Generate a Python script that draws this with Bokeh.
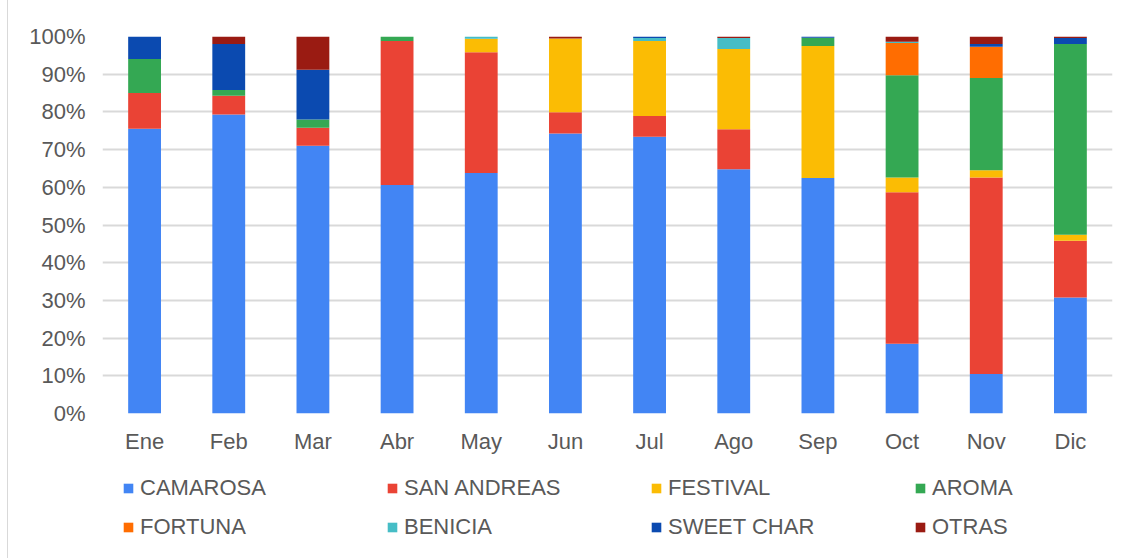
from bokeh.plotting import figure
from bokeh.layouts import column
from bokeh.models import ColumnDataSource, Range1d, NumeralTickFormatter, Legend, LegendItem, FixedTicker
from bokeh.embed import file_html
from bokeh.resources import INLINE

months = ["Ene", "Feb", "Mar", "Abr", "May", "Jun", "Jul", "Ago", "Sep", "Oct", "Nov", "Dic"]
series = ["CAMAROSA", "SAN ANDREAS", "FESTIVAL", "AROMA", "FORTUNA", "BENICIA", "SWEET CHAR", "OTRAS"]
colors = ["#4285F4", "#EA4335", "#FBBC04", "#34A853", "#FF6D01", "#46BDC6", "#0B4AB0", "#9A1B12"]

camarosa    = [75.5, 79.3, 71.0, 60.6, 63.8, 74.3, 73.4, 64.8, 62.5, 18.5, 10.5, 30.8]
san_andreas = [9.5, 5.0, 4.8, 38.2, 32.0, 5.6, 5.5, 10.6, 0.0, 40.2, 52.1, 15.0]
festival    = [0.0, 0.0, 0.0, 0.0, 3.6, 19.6, 19.9, 21.3, 35.0, 3.9, 1.9, 1.6]
aroma       = [9.0, 1.5, 2.2, 1.2, 0.0, 0.0, 0.0, 0.0, 2.2, 27.1, 24.5, 50.6]
fortuna     = [0.0, 0.0, 0.0, 0.0, 0.0, 0.0, 0.0, 0.0, 0.0, 8.6, 8.3, 0.0]
benicia     = [0.0, 0.0, 0.0, 0.0, 0.6, 0.0, 0.8, 2.9, 0.0, 0.3, 0.0, 0.0]
sweet_char  = [6.0, 12.2, 13.2, 0.0, 0.0, 0.0, 0.4, 0.0, 0.3, 0.0, 0.7, 1.6]
otras       = [0.0, 2.0, 8.8, 0.0, 0.0, 0.5, 0.0, 0.4, 0.0, 1.4, 2.0, 0.4]

values = [camarosa, san_andreas, festival, aroma, fortuna, benicia, sweet_char, otras]
data = {"month": months}
for name, vals in zip(series, values):
    data[name] = [v / 100.0 for v in vals]
source = ColumnDataSource(data)

FONT = "Liberation Sans"
TXT = "#595959"
FS = "22px"
BORDER = {"border-left": "1px solid #d9d9d9", "margin-left": "7px"}

# ---- main chart ----
p = figure(x_range=months, y_range=Range1d(0, 1), width=1114, height=460,
           output_backend="svg", toolbar_location=None,
           min_border_left=94, min_border_top=36, min_border_right=10, min_border_bottom=47)

renderers = p.vbar_stack(series, x="month", width=0.39, source=source, color=colors,
                         line_color=None)

p.yaxis.ticker = FixedTicker(ticks=[i / 10 for i in range(11)])
p.yaxis.formatter = NumeralTickFormatter(format="0%")
p.yaxis.axis_line_color = None
p.yaxis.major_tick_line_color = None
p.yaxis.minor_tick_line_color = None
p.yaxis.major_label_text_font = FONT
p.yaxis.major_label_text_font_size = FS
p.yaxis.major_label_text_color = TXT
p.yaxis.major_label_standoff = 11

p.xaxis.axis_line_color = None
p.xaxis.major_tick_line_color = None
p.xaxis.minor_tick_line_color = None
p.xaxis.major_label_text_font = FONT
p.xaxis.major_label_text_font_size = FS
p.xaxis.major_label_text_color = TXT
p.xaxis.major_label_standoff = 9

p.xgrid.grid_line_color = None
p.ygrid.grid_line_color = "#d9d9d9"
p.ygrid.grid_line_width = 2
p.outline_line_color = None
p.x_range.range_padding = 0.0
p.styles = BORDER

# ---- legend strip (same stacked data, kept out of view; only its legend shows) ----
p2 = figure(x_range=months, y_range=Range1d(5, 6), width=1114, height=98,
            output_backend="svg", toolbar_location=None,
            min_border_left=0, min_border_top=0, min_border_right=0, min_border_bottom=0)
p2.axis.visible = False
p2.grid.visible = False
p2.outline_line_color = None
p2.styles = BORDER

key_renderers = p2.vbar_stack(series, x="month", width=0.39, source=source, color=colors,
                              line_color=None)

# column-major fill with 4 columns -> reorder so rows read left to right
order = [0, 4, 1, 5, 2, 6, 3, 7]
items = [LegendItem(label=series[i], renderers=[key_renderers[i]]) for i in order]
legend = Legend(items=items, ncols=4, location=(20, 18),
                glyph_width=12, glyph_height=12, label_standoff=6, label_width=233,
                label_height=24, spacing=13, padding=0, margin=0,
                label_text_font=FONT, label_text_font_size=FS, label_text_color=TXT,
                border_line_color=None, background_fill_alpha=0)
p2.add_layout(legend)

layout = column(p, p2, spacing=0)
open("out.html", "w").write(file_html(layout, INLINE))
